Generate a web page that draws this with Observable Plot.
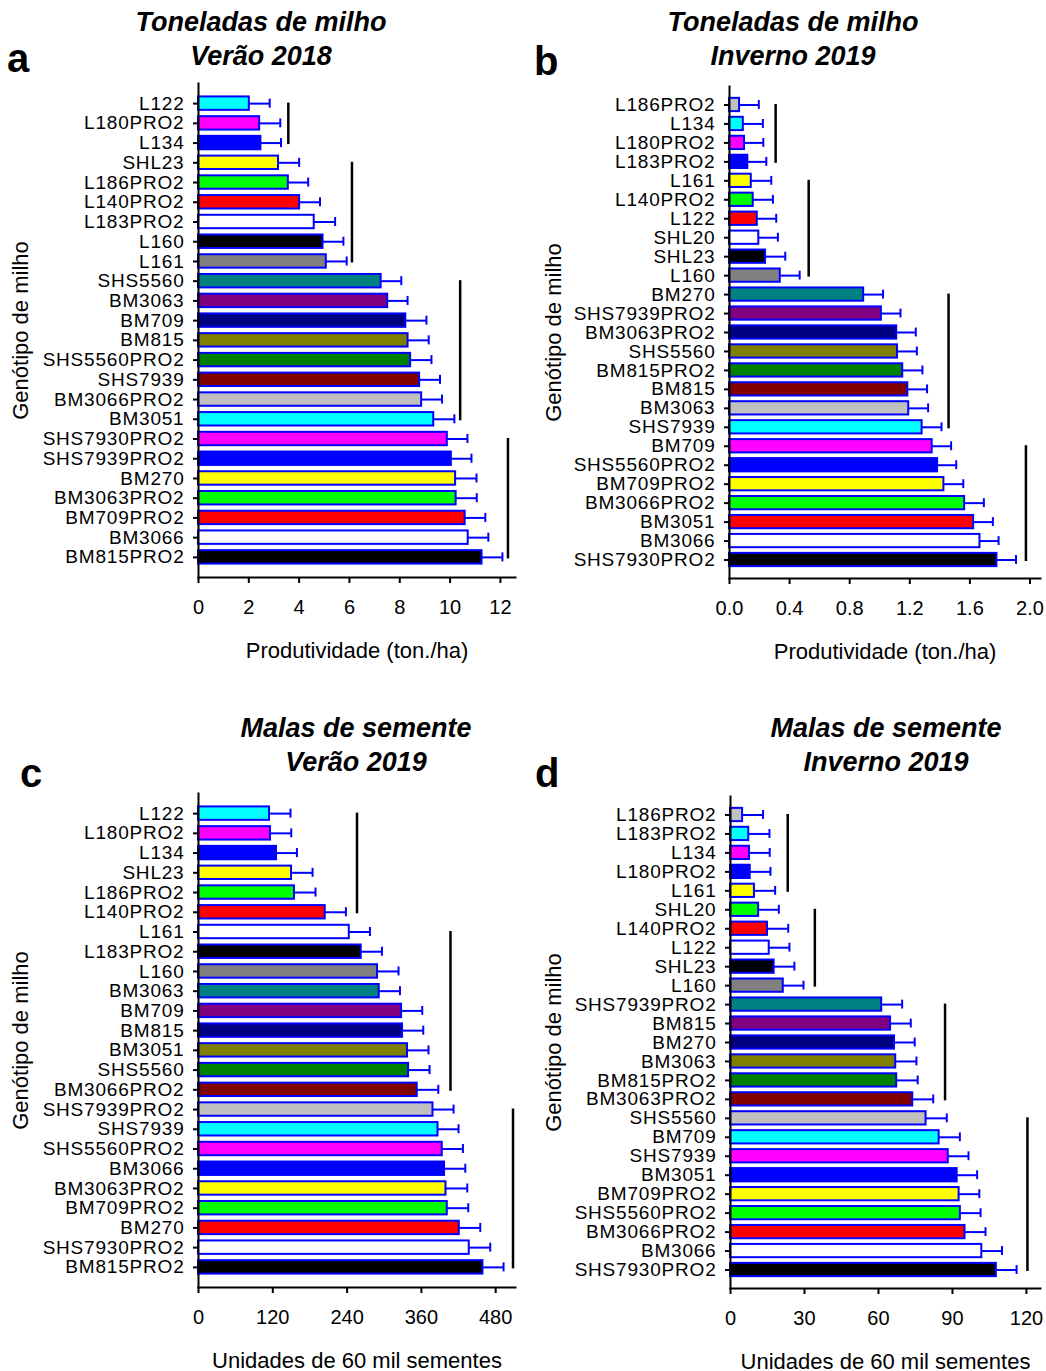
<!DOCTYPE html>
<html><head><meta charset="utf-8">
<script src="https://cdn.jsdelivr.net/npm/d3@7"></script>
<script src="https://cdn.jsdelivr.net/npm/@observablehq/plot@0.6"></script>
<style>
body{margin:0;background:#fff;width:1046px;height:1371px;overflow:hidden;position:relative;font-family:"Liberation Sans",Arial,sans-serif;color:#000;}
.title{position:absolute;width:440px;text-align:center;font-weight:bold;font-style:italic;font-size:27px;line-height:34px;white-space:nowrap;}
.letter{position:absolute;font-weight:bold;font-size:40px;line-height:40px;}
.panel{position:absolute;}
svg g[aria-label="y-axis tick label"] text{letter-spacing:0.8px;}
</style></head><body>
<script>
// ---------- DATA ----------
const palette = ["#00ffff","#ff00ff","#0000ff","#ffff00","#00ff00","#ff0000","#ffffff","#000000","#808080","#008080","#800080","#000080","#808000","#008000","#800000","#c0c0c0"];

const genoA = ["L122","L180PRO2","L134","SHL23","L186PRO2","L140PRO2","L183PRO2","L160","L161","SHS5560","BM3063","BM709","BM815","SHS5560PRO2","SHS7939","BM3066PRO2","BM3051","SHS7930PRO2","SHS7939PRO2","BM270","BM3063PRO2","BM709PRO2","BM3066","BM815PRO2"];
const meanA = [2.02,2.43,2.48,3.18,3.57,4.02,4.60,4.95,5.08,7.26,7.52,8.24,8.33,8.43,8.79,8.87,9.35,9.89,10.05,10.22,10.24,10.60,10.72,11.27];
const errA  = [0.81,0.82,0.80,0.82,0.79,0.81,0.83,0.81,0.81,0.80,0.79,0.82,0.82,0.83,0.81,0.81,0.82,0.80,0.80,0.83,0.82,0.80,0.80,0.81];
const sigA  = [{from:"L122",to:"L134",x:3.57},{from:"SHL23",to:"L161",x:6.1},{from:"SHS5560",to:"BM3051",x:10.4},{from:"SHS7930PRO2",to:"BM815PRO2",x:12.3}];
const ticksA = [0,2,4,6,8,10,12];

const genoB = ["L186PRO2","L134","L180PRO2","L183PRO2","L161","L140PRO2","L122","SHL20","SHL23","L160","BM270","SHS7939PRO2","BM3063PRO2","SHS5560","BM815PRO2","BM815","BM3063","SHS7939","BM709","SHS5560PRO2","BM709PRO2","BM3066PRO2","BM3051","BM3066","SHS7930PRO2"];
const meanB = [0.067,0.092,0.10,0.122,0.145,0.158,0.185,0.195,0.24,0.338,0.893,1.011,1.113,1.118,1.153,1.187,1.193,1.282,1.349,1.385,1.427,1.565,1.625,1.667,1.78];
const errB  = [0.128,0.13,0.125,0.123,0.133,0.131,0.126,0.127,0.131,0.129,0.129,0.127,0.127,0.129,0.131,0.128,0.129,0.129,0.126,0.124,0.129,0.128,0.128,0.124,0.127];
const sigB  = [{from:"L186PRO2",to:"L183PRO2",x:0.307},{from:"L161",to:"L160",x:0.527},{from:"BM270",to:"SHS7939",x:1.458},{from:"BM709",to:"SHS7930PRO2",x:1.973}];
const ticksB = [0,0.4,0.8,1.2,1.6,2.0];

const genoC = ["L122","L180PRO2","L134","SHL23","L186PRO2","L140PRO2","L161","L183PRO2","L160","BM3063","BM709","BM815","BM3051","SHS5560","BM3066PRO2","SHS7939PRO2","SHS7939","SHS5560PRO2","BM3066","BM3063PRO2","BM709PRO2","BM270","SHS7930PRO2","BM815PRO2"];
const meanC = [114.7,116.3,126,150.3,155,204.7,243.5,262.8,289.2,291.9,328,329.6,337.6,339.3,353.3,378.7,386.8,393.7,397.4,399.7,401.8,421.2,437.3,459.4];
const errC  = [33.9,33.5,33,33.9,34,33.4,33.4,33.5,33.9,33.5,33.4,33.4,33.9,33.9,34,33.3,33.2,33.4,33.5,34.4,33.9,33.9,33.9,33.3];
const sigC  = [{from:"L122",to:"L140PRO2",x:256},{from:"L161",to:"BM3066PRO2",x:407},{from:"SHS7939PRO2",to:"BM815PRO2",x:508}];
const ticksC = [0,120,240,360,480];

const genoD = ["L186PRO2","L183PRO2","L134","L180PRO2","L161","SHL20","L140PRO2","L122","SHL23","L160","SHS7939PRO2","BM815","BM270","BM3063","BM815PRO2","BM3063PRO2","SHS5560","BM709","SHS7939","BM3051","BM709PRO2","SHS5560PRO2","BM3066PRO2","BM3066","SHS7930PRO2"];
const meanD = [4.9,7.4,7.7,8.0,9.7,11.4,15.0,15.7,17.7,21.4,61.3,64.9,66.5,67.0,67.4,73.9,79.3,84.6,88.3,91.9,92.7,93.2,95.1,101.9,107.8];
const errD  = [8.3,8.4,8.2,8.2,8.4,8.2,8.4,8.2,8.2,8.2,8.3,8.2,8.2,8.4,8.5,8.3,8.4,8.4,8.2,8.1,8.2,8.2,8.3,8.2,8.2];
const sigD  = [{from:"L186PRO2",to:"L161",x:23.2},{from:"SHL20",to:"L160",x:34.2},{from:"SHS7939PRO2",to:"BM3063PRO2",x:87},{from:"SHS5560",to:"SHS7930PRO2",x:120.4}];
const ticksD = [0,30,60,90,120];

const yLabel = "Genótipo de milho";
const xLabelTon = "Produtividade (ton./ha)";
const xLabelSeed = "Unidades de 60 mil sementes";

// ---------- DRAW ----------
function panel(o) {
  const n = o.geno.length;
  const data = o.geno.map((g, i) => ({g, v: o.mean[i], e: o.err[i], c: palette[(((i - n + 24) % 16) + 16) % 16]}));
  const range = o.height - o.mt - o.mb;
  const step = range / (n - o.pi + 2 * o.po);
  const bw = step * (1 - o.pi);
  const font = "Liberation Sans, Arial, sans-serif";
  return Plot.plot({
    width: 523, height: o.height,
    marginTop: o.mt, marginBottom: o.mb, marginLeft: o.ml, marginRight: o.mr,
    style: {fontFamily: font, fontSize: "19px", color: "#000", background: "#fff", overflow: "visible"},
    x: {domain: [0, o.xMax]},
    y: {domain: o.geno, paddingInner: o.pi, paddingOuter: o.po, round: false},
    color: {type: "identity"},
    marks: [
      Plot.barX(data, {x: "v", y: "g", fill: "c", stroke: "#0000ff", strokeWidth: 2}),
      Plot.ruleY(data, {x1: "v", x2: d => d.v + d.e, y: "g", stroke: "#0000ff", strokeWidth: 2}),
      Plot.tickX(data, {x: d => d.v + d.e, y: "g", stroke: "#0000ff", strokeWidth: 2, insetTop: 2.2, insetBottom: 2.2}),
      Plot.ruleX(o.sig, {x: "x", y1: "from", y2: "to", stroke: "#000", strokeWidth: 2.5, insetTop: bw / 2 - 0.5, insetBottom: bw / 2 - 1.5}),
      Plot.frame({anchor: "left", stroke: "#000", strokeWidth: 2}),
      Plot.frame({anchor: "bottom", stroke: "#000", strokeWidth: 2}),
      Plot.axisY({tickSize: 5, tickPadding: 9, strokeWidth: 2, label: null, fontSize: 19}),
      Plot.axisX({tickSize: 6, tickPadding: 16, strokeWidth: 2, label: null, fontSize: 20, ticks: o.ticks, tickFormat: o.fmt}),
      Plot.text([o.xLabel], {frameAnchor: "bottom", lineAnchor: "middle", dy: 73, fontSize: 22, fill: "#000"}),
      Plot.text([yLabel], {frameAnchor: "left", lineAnchor: "middle", dx: o.yDx, rotate: -90, textAnchor: "middle", fontSize: 22, fill: "#000"})
    ]
  });
}

function place(el, left, top) {
  const d = document.createElement("div");
  d.className = "panel";
  d.style.left = left + "px"; d.style.top = top + "px";
  d.appendChild(el);
  document.body.appendChild(d);
}
function addTitle(lines, cx, top) {
  const d = document.createElement("div");
  d.className = "title";
  d.style.left = (cx - 220) + "px"; d.style.top = top + "px";
  d.innerHTML = lines.join("<br>");
  document.body.appendChild(d);
}
function addLetter(t, left, top) {
  const d = document.createElement("div");
  d.className = "letter";
  d.style.left = left + "px"; d.style.top = top + "px";
  d.textContent = t;
  document.body.appendChild(d);
}

const f1 = d3.format(".1f");
const fi = d3.format("d");

place(panel({geno: genoA, mean: meanA, err: errA, sig: sigA, xMax: 12.6, ticks: ticksA, fmt: fi, xLabel: xLabelTon,
  height: 590, mt: 3, mb: 93, ml: 198, mr: 8, pi: 0.32, po: 0.68, yDx: -178}), 0, 80);
place(panel({geno: genoB, mean: meanB, err: errB, sig: sigB, xMax: 2.07, ticks: ticksB, fmt: f1, xLabel: xLabelTon,
  height: 590, mt: 6, mb: 92, ml: 206, mr: 6, pi: 0.3, po: 0.625, yDx: -176}), 523, 80);
place(panel({geno: genoC, mean: meanC, err: errC, sig: sigC, xMax: 512, ticks: ticksC, fmt: fi, xLabel: xLabelSeed,
  height: 581, mt: 3, mb: 84, ml: 198, mr: 8, pi: 0.32, po: 0.68, yDx: -178}), 0, 790);
place(panel({geno: genoD, mean: meanD, err: errD, sig: sigD, xMax: 125.7, ticks: ticksD, fmt: fi, xLabel: xLabelSeed,
  height: 581, mt: 6, mb: 83, ml: 207, mr: 6, pi: 0.3, po: 0.625, yDx: -177}), 523, 790);

addTitle(["Toneladas de milho", "Verão 2018"], 261, 5);
addTitle(["Toneladas de milho", "Inverno 2019"], 793, 5);
addTitle(["Malas de semente", "Verão 2019"], 356, 711);
addTitle(["Malas de semente", "Inverno 2019"], 886, 711);

addLetter("a", 7, 38);
addLetter("b", 534, 41);
addLetter("c", 20, 753);
addLetter("d", 535, 753);
</script>
</body></html>
